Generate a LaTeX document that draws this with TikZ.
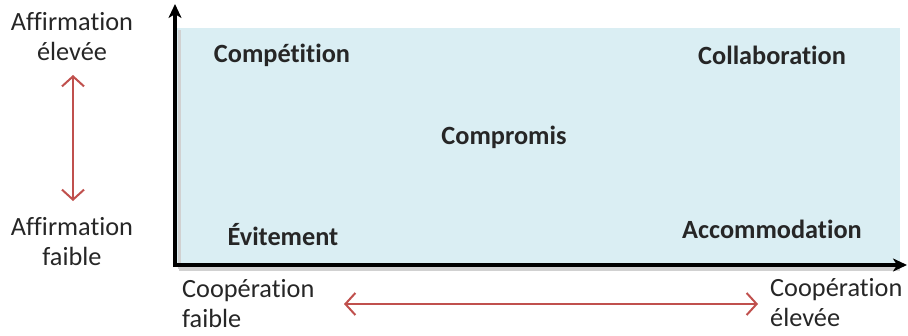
\documentclass[tikz,border=0pt]{standalone}
\usepackage{fontspec}
\setmainfont{Carlito}[Ligatures={NoCommon}]
\usetikzlibrary{arrows.meta}
\definecolor{quadblue}{HTML}{DAEEF3}
\definecolor{axred}{HTML}{C0504D}
\definecolor{txt}{HTML}{262626}
\tikzset{
  lbl/.style={font=\fontsize{26.3}{30}\selectfont, text=txt, align=center, inner sep=0pt},
  lbll/.style={lbl, align=left, anchor=north west},
  style/.style={font=\fontsize{26.3}{30}\selectfont\bfseries, text=txt, inner sep=0pt},
  axis/.style={line width=4pt, -{Stealth[length=14pt,width=13pt,inset=4pt]}},
  redarrow/.style={axred, line width=2pt, {Straight Barb[length=10pt,width=22pt]}-{Straight Barb[length=10pt,width=22pt]}}
}
\begin{document}
\begin{tikzpicture}[x=1pt,y=-1pt]
\useasboundingbox (0,0) rectangle (908,335);
% quadrant area
\fill[quadblue] (177,28) rectangle (900,265);
% shadows
\draw[black!18, line width=4pt] (179,269) -- (900,269);
\draw[black!18, line width=3pt] (179,30) -- (179,269);
% axes
\coordinate (o) at (175,265);
\coordinate (ytop) at (175,4);
\coordinate (xend) at (907,265);
\coordinate (ystart) at (175,267);
\draw[axis] (ystart) -- (ytop);
\draw[axis] (o) -- (xend);
% quadrant labels
\node[style] (comp) at (282,55) {Compétition};
\node[style] (coll) at (772,55) {Collaboration};
\node[style] (compr) at (504,137) {Compromis};
\node[style] (evit) at (283,235) {Évitement};
\node[style] (acc) at (772,229) {Accommodation};
% axis labels
\node[lbl] (ahigh) at (72,37) {Affirmation\\élevée};
\node[lbl] (alow) at (72,242) {Affirmation\\faible};
\node[lbll] (clow) at (182,279) {Coopération\\faible};
\node[lbll] (chigh) at (770,278) {Coopération\\élevée};
% red arrows
\coordinate (va) at (73,75);
\coordinate (vb) at (73,201);
\coordinate (ha) at (344,304);
\coordinate (hb) at (758,304);
\draw[redarrow] (va) -- (vb);
\draw[redarrow] (ha) -- (hb);
\end{tikzpicture}
\end{document}
